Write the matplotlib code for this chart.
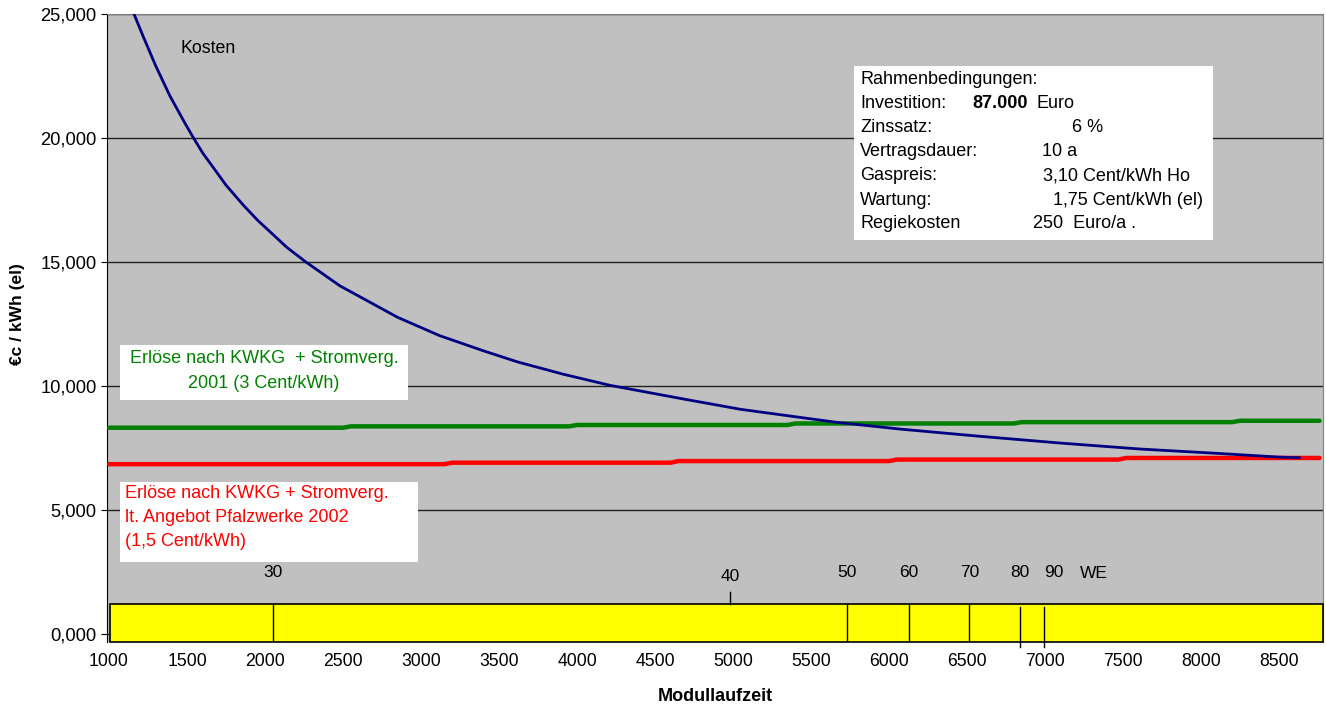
import matplotlib.pyplot as plt
from matplotlib.patches import Rectangle
from matplotlib.ticker import FuncFormatter

plt.rcParams['font.family'] = ['Liberation Sans', 'DejaVu Sans']

# Stromgestehungskosten ueber der Modullaufzeit (h/a)
laufzeit = [1100, 1160, 1220, 1300, 1390, 1490, 1540, 1600, 1750, 1860, 1950,
            2140, 2260, 2480, 2850, 3120, 3400, 3620, 3910, 4210, 4680, 5050,
            5660, 6070, 6580, 7100, 7610, 8120, 8500, 8630]
kosten = [26050, 25000, 24080, 22900, 21700, 20560, 20020, 19400, 18100, 17300,
          16700, 15590, 15010, 14040, 12770, 12030, 11420, 10970, 10480, 10030,
          9480, 9060, 8540, 8265, 7975, 7700, 7460, 7280, 7135, 7110]

# Erloese nach KWKG + Stromverguetung 2001 (3 Cent/kWh)
erloes_2001_x = [1000, 2500, 2550, 3950, 4000, 5350, 5400, 6800, 6850, 8200, 8250, 8760]
erloes_2001 = [8320, 8320, 8375, 8375, 8430, 8430, 8490, 8490, 8545, 8545, 8600, 8600]

# Erloese nach KWKG + Angebot Pfalzwerke 2002 (1,5 Cent/kWh)
erloes_2002_x = [1000, 3150, 3200, 4600, 4650, 6000, 6050, 7470, 7520, 8760]
erloes_2002 = [6850, 6850, 6910, 6910, 6975, 6975, 7035, 7035, 7100, 7100]

# Wohneinheiten und zugehoerige Laufzeit
we = [30, 40, 50, 60, 70, 80, 90]
we_laufzeit = [2050, 4980, 5730, 6125, 6515, 6840, 6995]

rahmen_labels = ['Investition:', 'Zinssatz:', 'Vertragsdauer:', 'Gaspreis:',
                 'Wartung:', 'Regiekosten']
rahmen_werte = ['87.000', '6 %', '10 a', '3,10 Cent/kWh Ho',
                '1,75 Cent/kWh (el)', '250  Euro/a .']

W, H = 1326, 704
fig = plt.figure(figsize=(W / 100, H / 100), dpi=100)
ax = fig.add_axes([107 / W, 62 / H, 1216 / W, 628 / H])
ax.set_facecolor('#C0C0C0')

ax.set_xlim(987, 8782)
ax.set_ylim(-320, 25000)
ax.set_yticks(range(0, 25001, 5000))
ax.set_xticks(range(1000, 8501, 500))
ax.yaxis.set_major_formatter(FuncFormatter(lambda v, p: f"{int(v) // 1000},{int(v) % 1000:03d}"))
ax.tick_params(axis='y', length=4.5, labelsize=13.2, pad=3)
ax.tick_params(axis='x', length=0, labelsize=12.7, pad=8)
ax.grid(axis='y', color='#202020', linewidth=1)
ax.set_axisbelow(True)
for s in ['top', 'right']:
    ax.spines[s].set_color('#808080')
ax.spines['bottom'].set_visible(False)

ax.plot(laufzeit, kosten, color='#000080', linewidth=2, zorder=4)
ax.plot(erloes_2001_x, erloes_2001, color='#008000', linewidth=3.2,
        solid_capstyle='round', zorder=3)
ax.plot(erloes_2002_x, erloes_2002, color='#FF0000', linewidth=3.2,
        solid_capstyle='round', zorder=3)

# gelber Balken mit den Wohneinheiten
ax.add_patch(Rectangle((1005, -320), 7775, 1530, facecolor='#FFFF00',
                       edgecolor='black', linewidth=1.2, zorder=5, clip_on=False))
for n, x in zip(we, we_laufzeit):
    if n == 40:
        ax.plot([x, x], [1210, 1700], color='black', linewidth=1, zorder=6)
    elif n >= 80:
        ax.plot([x, x], [-520, 1090], color='black', linewidth=1, zorder=6, clip_on=False)
    else:
        ax.plot([x, x], [-320, 1210], color='black', linewidth=1, zorder=6)
    ax.text(x + (60 if n == 90 else 0), 2470 if n != 40 else 2330, str(n),
            ha='center', va='center', fontsize=12.5)
ax.text(7310, 2450, 'WE', ha='center', va='center', fontsize=12.5)

ax.text(1635, 23600, 'Kosten', ha='center', va='center', fontsize=12.8)

ax.set_xlabel('Modullaufzeit', fontsize=13, fontweight='bold', labelpad=13)
fig.text(18 / W, 1 - 314 / H, '€c / kWh (el)', rotation=90, ha='center', va='center',
         fontsize=12.5, fontweight='bold')


def box(x0, y0, x1, y1):
    fig.add_artist(Rectangle((x0 / W, 1 - y1 / H), (x1 - x0) / W, (y1 - y0) / H,
                             transform=fig.transFigure, facecolor='white',
                             edgecolor='none', zorder=3))


def txt(x, y, s, **kw):
    kw.setdefault('fontsize', 13)
    fig.text(x / W, 1 - y / H, s, va='center', zorder=4, **kw)


# Rahmenbedingungen
box(854, 66, 1213, 240)
txt(860, 80, 'Rahmenbedingungen:')
werte_x = [972, 1072, 1042, 1043, 1053, 1033]
for i, (lab, val, vx) in enumerate(zip(rahmen_labels, rahmen_werte, werte_x)):
    y = 104 + i * 24
    txt(860, y, lab)
    if i == 0:
        txt(vx, y, val, fontweight='bold')
        txt(1036, y, 'Euro')
    else:
        txt(vx, y, val)

# Beschriftung der Erloeskurven
box(120, 345, 408, 400)
txt(264, 359, 'Erlöse nach KWKG  + Stromverg.', ha='center', color='#008000')
txt(264, 383, '2001 (3 Cent/kWh)', ha='center', color='#008000')

box(120, 482, 418, 562)
txt(125, 494, 'Erlöse nach KWKG + Stromverg.', color='#FF0000')
txt(125, 518, 'lt. Angebot Pfalzwerke 2002', color='#FF0000')
txt(125, 542, '(1,5 Cent/kWh)', color='#FF0000')

fig.savefig('out.png', dpi=100)
